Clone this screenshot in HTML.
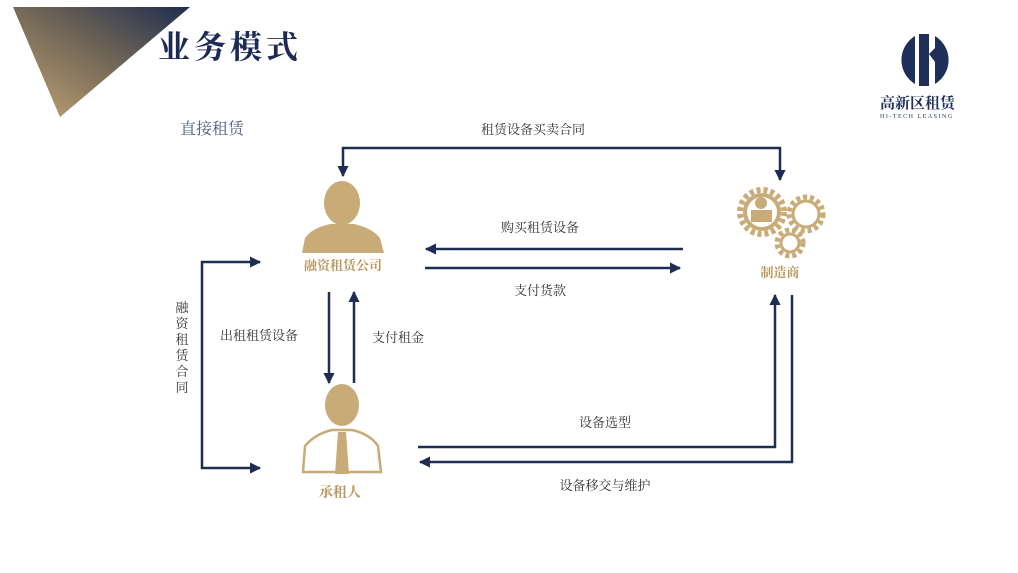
<!DOCTYPE html>
<html><head><meta charset="utf-8"><style>
html,body{margin:0;padding:0;background:#fff;}
svg{display:block;}
text{font-family:"Liberation Serif","Noto Serif CJK SC",serif;}
</style></head><body>
<svg width="1018" height="573" viewBox="0 0 1018 573" xmlns="http://www.w3.org/2000/svg">
<defs>
<linearGradient id="tg" x1="0" y1="1" x2="1" y2="0">
<stop offset="0" stop-color="#c4a574"/><stop offset="0.55" stop-color="#6e6456"/><stop offset="1" stop-color="#1f2d50"/>
</linearGradient>
<marker id="ah" viewBox="0 0 10 10" refX="9" refY="5" markerWidth="4.5" markerHeight="4.5" orient="auto-start-reverse">
<path d="M0,0 L10,5 L0,10 z" fill="#1f2d55"/></marker>
</defs>
<polygon points="13,7 190,7 60,117" fill="url(#tg)"/>
<text x="158" y="58" font-size="32" font-weight="bold" fill="#1c2a55" letter-spacing="4">业务模式</text>
<text x="180" y="134" font-size="16" fill="#4a5a7a">直接租赁</text>

<path d="M915,36 A28,28 0 0 0 915,84 Z" fill="#1f2f5a"/>
<rect x="919" y="34" width="10" height="52" fill="#1f2f5a"/>
<path d="M935,36 A28,28 0 0 1 935,84 L935,62 L929,54 L935,48 Z" fill="#1f2f5a"/>
<text x="880" y="108" font-size="15" font-weight="bold" fill="#1f2f5a" font-family="Liberation Sans,Noto Sans CJK SC,sans-serif">高新区租赁</text>
<text x="880" y="118" font-size="6" fill="#1f2f5a" letter-spacing="1.5" font-family="Liberation Sans,sans-serif">HI-TECH LEASING</text>

<g stroke="#1f2d55" stroke-width="2.5" fill="none">
<polyline points="343,176 343,148 780,148 780,180" marker-start="url(#ah)" marker-end="url(#ah)"/>
<line x1="683" y1="249" x2="426" y2="249" marker-end="url(#ah)"/>
<line x1="425" y1="268" x2="680" y2="268" marker-end="url(#ah)"/>
<line x1="329" y1="292" x2="329" y2="383" marker-end="url(#ah)"/>
<line x1="354" y1="383" x2="354" y2="292" marker-end="url(#ah)"/>
<polyline points="260,262 202,262 202,468 260,468" marker-start="url(#ah)" marker-end="url(#ah)"/>
<polyline points="418,447 775,447 775,295" marker-end="url(#ah)"/>
<polyline points="792,295 792,462 420,462" marker-end="url(#ah)"/>
</g>
<g font-size="13" fill="#333">
<text x="533" y="134" text-anchor="middle">租赁设备买卖合同</text>
<text x="540" y="232" text-anchor="middle">购买租赁设备</text>
<text x="540" y="295" text-anchor="middle">支付货款</text>
<text x="220" y="340">出租租赁设备</text>
<text x="372" y="342">支付租金</text>
<text x="605" y="427" text-anchor="middle">设备选型</text>
<text x="605" y="490" text-anchor="middle">设备移交与维护</text>
<text x="182" y="312" text-anchor="middle">融</text>
<text x="182" y="328" text-anchor="middle">资</text>
<text x="182" y="344" text-anchor="middle">租</text>
<text x="182" y="360" text-anchor="middle">赁</text>
<text x="182" y="376" text-anchor="middle">合</text>
<text x="182" y="392" text-anchor="middle">同</text>
</g>

<g fill="#c9ab78">
<ellipse cx="342" cy="203" rx="18" ry="22"/>
<path d="M302,253 L305,238 Q312,228 330,224 L354,224 Q372,228 380,238 L384,253 Z"/>
</g>
<text x="343" y="270" text-anchor="middle" font-size="13" font-weight="bold" fill="#b8975e">融资租赁公司</text>

<g fill="none" stroke="#c9ab78">
<circle cx="762" cy="212" r="22" stroke-width="6" stroke-dasharray="4 3"/>
<circle cx="762" cy="212" r="17" stroke-width="4"/>
<circle cx="806" cy="214" r="17" stroke-width="5" stroke-dasharray="4 3"/>
<circle cx="806" cy="214" r="13" stroke-width="3"/>
<circle cx="790" cy="243" r="13" stroke-width="5" stroke-dasharray="4 3"/>
<circle cx="790" cy="243" r="9" stroke-width="3"/>
</g>
<circle cx="761" cy="203" r="6" fill="#c9ab78"/>
<rect x="751" y="210" width="21" height="12" fill="#c9ab78"/>
<text x="780" y="277" text-anchor="middle" font-size="13" font-weight="bold" fill="#b8975e">制造商</text>

<ellipse cx="342" cy="405" rx="17" ry="21" fill="#c9ab78"/>
<path d="M303,472 L305,446 Q315,434 332,430 L352,430 Q370,434 378,446 L381,472 Z" fill="#fff" stroke="#c9ab78" stroke-width="2.5"/>
<path d="M338,432 L346,432 L349,474 L335,474 Z" fill="#c9ab78"/>
<text x="340" y="497" text-anchor="middle" font-size="14" font-weight="bold" fill="#b8975e">承租人</text>
</svg>
</body></html>
